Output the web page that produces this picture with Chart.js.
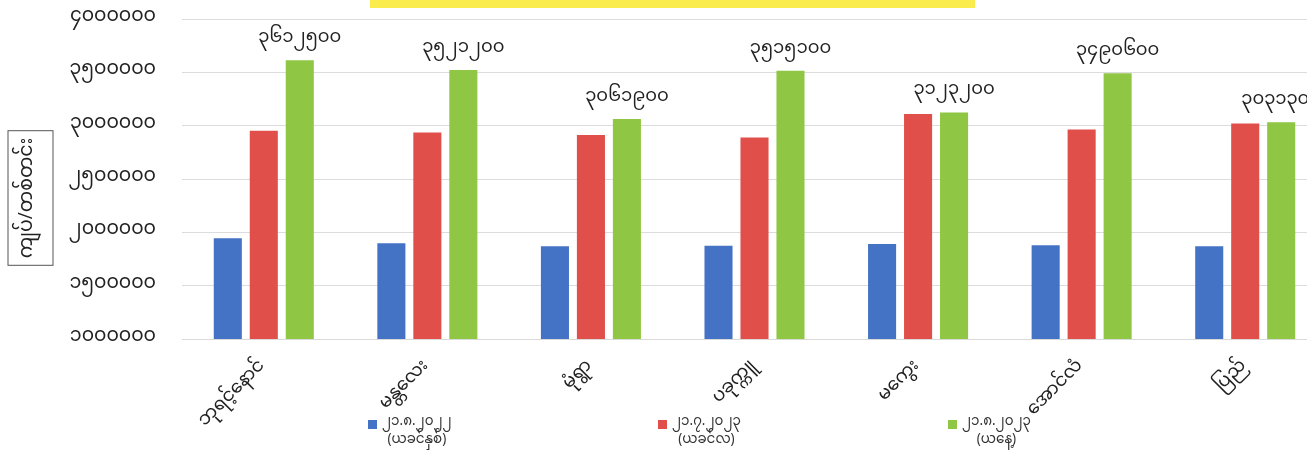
<!DOCTYPE html>
<html>
<head>
<meta charset="utf-8">
<script src="https://cdn.jsdelivr.net/npm/chart.js@4.4.0/dist/chart.umd.min.js"></script>
<style>
  html, body { margin: 0; padding: 0; background: #fff; overflow: hidden; }
  #wrap { position: relative; width: 1327px; height: 454px; }
</style>
</head>
<body>
<div id="wrap"><canvas id="priceChart"></canvas></div>
<script>
// market names (x categories)
const markets = ["ဘုရင့်နောင်", "မန္တလေး", "မုံရွာ", "ပခုက္ကူ", "မကွေး", "အောင်လံ", "ပြည်"];

// prices per basket, three dates
const lastYear = [1944000, 1897000, 1869000, 1875000, 1890000, 1878000, 1869000];
const lastMonth = [2953000, 2935000, 2913000, 2888000, 3110000, 2963000, 3020000];
const today = [3612500, 3521200, 3061900, 3515100, 3123200, 3490600, 3031300];

const seriesNames = [
  ["၂၁.၈.၂၀၂၂", "(ယခင်နှစ်)"],
  ["၂၁.၇.၂၀၂၃", "(ယခင်လ)"],
  ["၂၁.၈.၂၀၂၃", "(ယနေ့)"],
];
const seriesColors = ["#4472C4", "#E04F4A", "#8FC744"];

// y axis range
const yMin = 1000000;
const yMax = 4000000;
const yStep = 500000;
const yTitle = "ကျပ်/တစ်တင်း";

const FONT = '"Noto Sans Myanmar", "Padauk", "Myanmar Text", "Noto Sans", sans-serif';

// convert western digits to Myanmar digits
function mmDigits(n) {
  const d = "၀၁၂၃၄၅၆၇၈၉";
  return String(n).replace(/[0-9]/g, (c) => d[+c]);
}

// yellow strip (cut-off title box), boxed y title, legend
const decorPlugin = {
  id: "decor",
  beforeDraw(chart) {
    const ctx = chart.ctx;
    ctx.save();
    ctx.fillStyle = "#FAEC4C";
    ctx.fillRect(370, 0, 605, 8);
    ctx.restore();
  },
  afterDraw(chart) {
    const ctx = chart.ctx;
    ctx.save();
    // y axis title in a box
    ctx.font = "19px " + FONT;
    ctx.fillStyle = "#222";
    const w = ctx.measureText(yTitle).width;
    const cx = 30, cy = 198;
    ctx.translate(cx, cy);
    ctx.rotate(-Math.PI / 2);
    ctx.textAlign = "center";
    ctx.textBaseline = "middle";
    ctx.fillText(yTitle, 0, 0);
    ctx.strokeStyle = "#555";
    ctx.lineWidth = 1;
    ctx.strokeRect(-w / 2 - 7, -22, w + 14, 45);
    ctx.restore();

    // legend
    ctx.save();
    ctx.font = "13.5px " + FONT;
    ctx.textBaseline = "middle";
    const startX = 368, gap = 290, y1 = 424, y2 = 442;
    seriesNames.forEach((lines, i) => {
      const x = startX + i * gap;
      ctx.fillStyle = seriesColors[i];
      ctx.fillRect(x, y1 - 4, 9, 9);
      ctx.fillStyle = "#333";
      ctx.textAlign = "left";
      ctx.fillText(lines[0], x + 14, y1);
      const w0 = ctx.measureText(lines[0]).width;
      ctx.textAlign = "center";
      ctx.fillText(lines[1], x + 14 + w0 / 2, y2);
    });
    ctx.restore();
  },
  // value labels above the green bars
  afterDatasetsDraw(chart) {
    const ctx = chart.ctx;
    const meta = chart.getDatasetMeta(2);
    ctx.save();
    ctx.font = "18px " + FONT;
    ctx.fillStyle = "#222";
    ctx.textAlign = "center";
    ctx.textBaseline = "middle";
    meta.data.forEach((bar, i) => {
      ctx.fillText(mmDigits(today[i]), bar.x, bar.y - 20);
    });
    ctx.restore();
  },
};

const ctx = document.getElementById("priceChart").getContext("2d");
new Chart(ctx, {
  type: "bar",
  data: {
    labels: markets,
    datasets: [lastYear, lastMonth, today].map((vals, i) => ({
      label: seriesNames[i].join(" "),
      data: vals,
      backgroundColor: seriesColors[i],
      categoryPercentage: 0.66,
      barPercentage: 0.78,
    })),
  },
  options: {
    responsive: true,
    maintainAspectRatio: false,
    animation: false,
    layout: { padding: { top: 19, left: 0, right: 0, bottom: 0 } },
    plugins: {
      legend: { display: false },
      tooltip: { enabled: false },
    },
    scales: {
      x: {
        grid: { display: false },
        border: { color: "#d9d9d9" },
        ticks: {
          minRotation: 45,
          maxRotation: 45,
          padding: 10,
          color: "#222",
          font: { size: 18, family: FONT },
        },
        afterFit(scale) {
          scale.height = 115;
          scale.paddingLeft = 0;
          scale.paddingRight = 0;
        },
      },
      y: {
        min: yMin,
        max: yMax,
        border: { display: false },
        grid: { color: "#dcdcdc", drawTicks: false },
        ticks: {
          stepSize: yStep,
          padding: 26,
          color: "#222",
          font: { size: 19, family: FONT },
          callback: (v) => mmDigits(v),
        },
        afterFit(scale) {
          scale.width = 182;
          scale.paddingTop = 0;
          scale.paddingBottom = 0;
        },
      },
    },
  },
  plugins: [decorPlugin],
});
</script>
</body>
</html>
